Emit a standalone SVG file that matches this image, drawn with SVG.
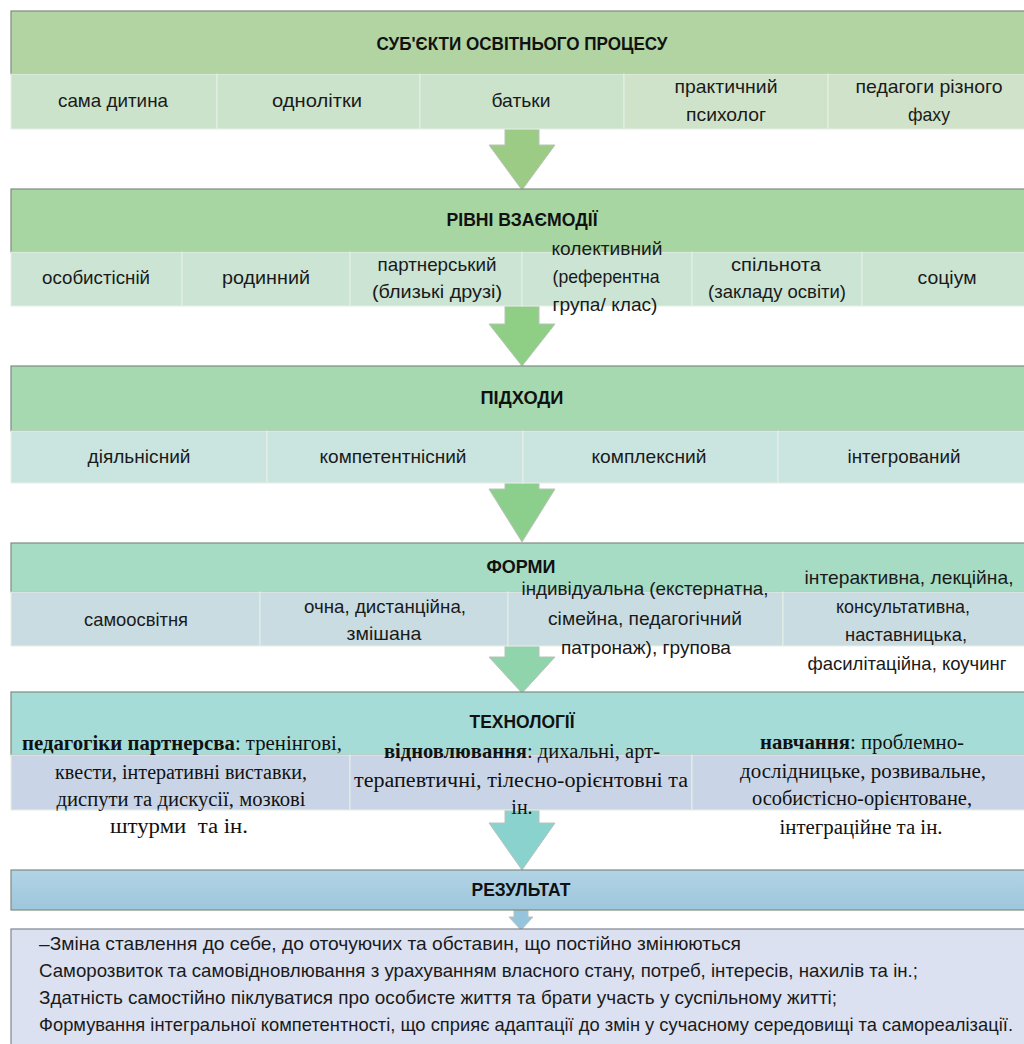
<svg xmlns="http://www.w3.org/2000/svg" width="1024" height="1044" viewBox="0 0 1024 1044">
<style>
.hd{stroke:#7e8c80;stroke-width:1.2}
.cell{stroke:#e6efe6;stroke-width:1}
.t{font-family:"Liberation Sans Narrow","Liberation Sans",Arial,sans-serif;font-size:19px;fill:#1a1a1a;text-anchor:middle}
.h{font-family:"Liberation Sans",Arial,sans-serif;font-size:19px;font-weight:bold;fill:#111;text-anchor:middle}
.s{font-family:"Liberation Serif","Times New Roman",serif;font-size:20px;fill:#111;text-anchor:middle}
.b{font-weight:bold}
.r{font-family:"Liberation Sans",Arial,sans-serif;font-size:19px;fill:#1a1a1a}
.arr{stroke:#b9c2b9;stroke-width:1}
</style>
<defs>
<linearGradient id="gRes" x1="0" y1="0" x2="0" y2="1">
<stop offset="0" stop-color="#b2d3e6"/><stop offset="1" stop-color="#9ec6dc"/>
</linearGradient>
</defs>
<rect width="1024" height="1044" fill="#ffffff"/>

<g id="connectors">
<path class="arr" fill="#9ccb86" d="M505,129 H539 V145 H555 L522,190 L489,145 H505 Z"/>
<path class="arr" fill="#8fce85" d="M505,306 H539 V324 H555 L522,366 L489,324 H505 Z"/>
<path class="arr" fill="#8ccf8c" d="M505,483 H539 V489 H555 L522,542 L489,489 H505 Z"/>
<path class="arr" fill="#8fd4aa" d="M505,646 H539 V657 H555 L522,693 L489,657 H505 Z"/>
<path class="arr" fill="#8ad2cd" d="M505,810 H539 V823 H555 L522,870 L489,823 H505 Z"/>
<path class="arr" fill="#94c5dd" d="M514,910 H528 V917 H533 L521,930 L509,917 H514 Z"/>
</g>

<g id="subjects">
<rect class="hd" x="11" y="11" width="1020" height="63" fill="#b2d3a2"/>
<rect class="cell" x="11" y="74" width="206" height="55" fill="#cce3cb"/>
<rect class="cell" x="217" y="74" width="203" height="55" fill="#cce3cb"/>
<rect class="cell" x="420" y="74" width="204" height="55" fill="#cce3cb"/>
<rect class="cell" x="624" y="74" width="204" height="55" fill="#cfe3cb"/>
<rect class="cell" x="828" y="74" width="203" height="55" fill="#d0e2c9"/>
<text class="h" x="522" y="50" textLength="291" lengthAdjust="spacingAndGlyphs">СУБ'ЄКТИ ОСВІТНЬОГО ПРОЦЕСУ</text>
<text class="t" x="113" y="107" textLength="110" lengthAdjust="spacingAndGlyphs">сама дитина</text>
<text class="t" x="317" y="107" textLength="90" lengthAdjust="spacingAndGlyphs">однолітки</text>
<text class="t" x="521" y="107" textLength="59" lengthAdjust="spacingAndGlyphs">батьки</text>
<text class="t" x="726" y="93" textLength="103" lengthAdjust="spacingAndGlyphs">практичний</text>
<text class="t" x="726" y="121" textLength="80" lengthAdjust="spacingAndGlyphs">психолог</text>
<text class="t" x="929" y="93" textLength="147" lengthAdjust="spacingAndGlyphs">педагоги різного</text>
<text class="t" x="929" y="121" textLength="42" lengthAdjust="spacingAndGlyphs">фаху</text>
</g>

<g id="levels">
<rect class="hd" x="11" y="189" width="1020" height="63" fill="#a8d6a2"/>
<rect class="cell" x="11" y="252" width="171" height="54" fill="#cbe4d4"/>
<rect class="cell" x="182" y="252" width="168" height="54" fill="#cbe4d4"/>
<rect class="cell" x="350" y="252" width="172" height="54" fill="#cbe4d4"/>
<rect class="cell" x="522" y="252" width="170" height="54" fill="#cbe4d4"/>
<rect class="cell" x="692" y="252" width="170" height="54" fill="#cbe4d4"/>
<rect class="cell" x="862" y="252" width="169" height="54" fill="#cbe4d2"/>
<text class="h" x="522" y="226" textLength="151" lengthAdjust="spacingAndGlyphs">РІВНІ ВЗАЄМОДІЇ</text>
<text class="t" x="96" y="284" textLength="108" lengthAdjust="spacingAndGlyphs">особистісній</text>
<text class="t" x="266" y="284" textLength="88" lengthAdjust="spacingAndGlyphs">родинний</text>
<text class="t" x="437" y="271" textLength="119" lengthAdjust="spacingAndGlyphs">партнерський</text>
<text class="t" x="437" y="298" textLength="130" lengthAdjust="spacingAndGlyphs">(близькі друзі)</text>
<text class="t" x="607" y="255" textLength="111" lengthAdjust="spacingAndGlyphs">колективний</text>
<text class="t" x="606" y="283" textLength="107" lengthAdjust="spacingAndGlyphs">(референтна</text>
<text class="t" x="605" y="311" textLength="105" lengthAdjust="spacingAndGlyphs">група/ клас)</text>
<text class="t" x="776" y="271" textLength="90" lengthAdjust="spacingAndGlyphs">спільнота</text>
<text class="t" x="777" y="298" textLength="138" lengthAdjust="spacingAndGlyphs">(закладу освіти)</text>
<text class="t" x="947" y="284" textLength="59" lengthAdjust="spacingAndGlyphs">соціум</text>
</g>

<g id="approaches">
<rect class="hd" x="11" y="366" width="1020" height="65" fill="#a6d9af"/>
<rect class="cell" x="11" y="431" width="256" height="52" fill="#cae5e0"/>
<rect class="cell" x="267" y="431" width="256" height="52" fill="#cae5e0"/>
<rect class="cell" x="523" y="431" width="255" height="52" fill="#cae5e0"/>
<rect class="cell" x="778" y="431" width="253" height="52" fill="#cae5e0"/>
<text class="h" x="522" y="404" textLength="83" lengthAdjust="spacingAndGlyphs">ПІДХОДИ</text>
<text class="t" x="139" y="463" textLength="103" lengthAdjust="spacingAndGlyphs">діяльнісний</text>
<text class="t" x="393" y="463" textLength="147" lengthAdjust="spacingAndGlyphs">компетентнісний</text>
<text class="t" x="649" y="463" textLength="115" lengthAdjust="spacingAndGlyphs">комплексний</text>
<text class="t" x="904" y="463" textLength="113" lengthAdjust="spacingAndGlyphs">інтегрований</text>
</g>

<g id="forms">
<rect class="hd" x="11" y="543" width="1020" height="49" fill="#a6dbc4"/>
<rect class="cell" x="11" y="592" width="249" height="54" fill="#c9dce2"/>
<rect class="cell" x="260" y="592" width="248" height="54" fill="#c9dce2"/>
<rect class="cell" x="508" y="592" width="275" height="54" fill="#c9dce2"/>
<rect class="cell" x="783" y="592" width="248" height="54" fill="#c9dce2"/>
<text class="h" x="521" y="573" textLength="69" lengthAdjust="spacingAndGlyphs">ФОРМИ</text>
<text class="t" x="136" y="626" textLength="104" lengthAdjust="spacingAndGlyphs">самоосвітня</text>
<text class="t" x="385" y="613" textLength="162" lengthAdjust="spacingAndGlyphs">очна, дистанційна,</text>
<text class="t" x="384" y="640" textLength="75" lengthAdjust="spacingAndGlyphs">змішана</text>
<text class="t" x="645" y="595" textLength="247" lengthAdjust="spacingAndGlyphs">індивідуальна (екстернатна,</text>
<text class="t" x="645" y="625" textLength="194" lengthAdjust="spacingAndGlyphs">сімейна, педагогічний</text>
<text class="t" x="646" y="654" textLength="170" lengthAdjust="spacingAndGlyphs">патронаж), групова</text>
<text class="t" x="909" y="584" textLength="209" lengthAdjust="spacingAndGlyphs">інтерактивна, лекційна,</text>
<text class="t" x="903" y="613" textLength="134" lengthAdjust="spacingAndGlyphs">консультативна,</text>
<text class="t" x="906" y="641" textLength="122" lengthAdjust="spacingAndGlyphs">наставницька,</text>
<text class="t" x="907" y="670" textLength="199" lengthAdjust="spacingAndGlyphs">фасилітаційна, коучинг</text>
</g>

<g id="technologies">
<rect class="hd" x="11" y="692" width="1020" height="63" fill="#a5dcd7"/>
<rect class="cell" x="11" y="755" width="339" height="55" fill="#c9d5e7"/>
<rect class="cell" x="350" y="755" width="342" height="55" fill="#c9d5e7"/>
<rect class="cell" x="692" y="755" width="339" height="55" fill="#c9d5e7"/>
<text class="h" x="522" y="728" textLength="105" lengthAdjust="spacingAndGlyphs">ТЕХНОЛОГІЇ</text>
<text class="s" x="182" y="750" textLength="320" lengthAdjust="spacingAndGlyphs"><tspan class="b">педагогіки партнерсва</tspan>: тренінгові,</text>
<text class="s" x="181" y="779" textLength="252" lengthAdjust="spacingAndGlyphs">квести, інтеративні виставки,</text>
<text class="s" x="181" y="806" textLength="249" lengthAdjust="spacingAndGlyphs">диспути та дискусії, мозкові</text>
<text class="s" x="179" y="833" textLength="138" lengthAdjust="spacingAndGlyphs" xml:space="preserve">штурми  та ін.</text>
<text class="s" x="522" y="758" textLength="276" lengthAdjust="spacingAndGlyphs"><tspan class="b">відновлювання</tspan>: дихальні, арт-</text>
<text class="s" x="521" y="787" textLength="334" lengthAdjust="spacingAndGlyphs">терапевтичні, тілесно-орієнтовні та</text>
<text class="s" x="522" y="814">ін.</text>
<text class="s" x="862" y="749" textLength="204" lengthAdjust="spacingAndGlyphs"><tspan class="b">навчання</tspan>: проблемно-</text>
<text class="s" x="863" y="778" textLength="246" lengthAdjust="spacingAndGlyphs">дослідницьке, розвивальне,</text>
<text class="s" x="862" y="805" textLength="220" lengthAdjust="spacingAndGlyphs">особистісно-орієнтоване,</text>
<text class="s" x="861" y="834" textLength="163" lengthAdjust="spacingAndGlyphs">інтеграційне та ін.</text>
</g>

<g id="result">
<rect class="hd" x="11" y="870" width="1020" height="40" fill="url(#gRes)"/>
<text class="h" x="521" y="896" textLength="99" lengthAdjust="spacingAndGlyphs">РЕЗУЛЬТАТ</text>
<rect x="11" y="929" width="1020" height="120" fill="#dbe1f1" stroke="#7f8590" stroke-width="1.2"/>
<text class="r" x="39" y="950" textLength="702" lengthAdjust="spacingAndGlyphs">–Зміна ставлення до себе, до оточуючих та обставин, що постійно змінюються</text>
<text class="r" x="39" y="977" textLength="879" lengthAdjust="spacingAndGlyphs">Саморозвиток та самовідновлювання з урахуванням власного стану, потреб, інтересів, нахилів та ін.;</text>
<text class="r" x="39" y="1004" textLength="798" lengthAdjust="spacingAndGlyphs">Здатність самостійно піклуватися про особисте життя та брати участь у суспільному житті;</text>
<text class="r" x="39" y="1031" textLength="974" lengthAdjust="spacingAndGlyphs">Формування інтегральної компетентності, що сприяє адаптації до змін у сучасному середовищі та самореалізації.</text>
</g>
</svg>
